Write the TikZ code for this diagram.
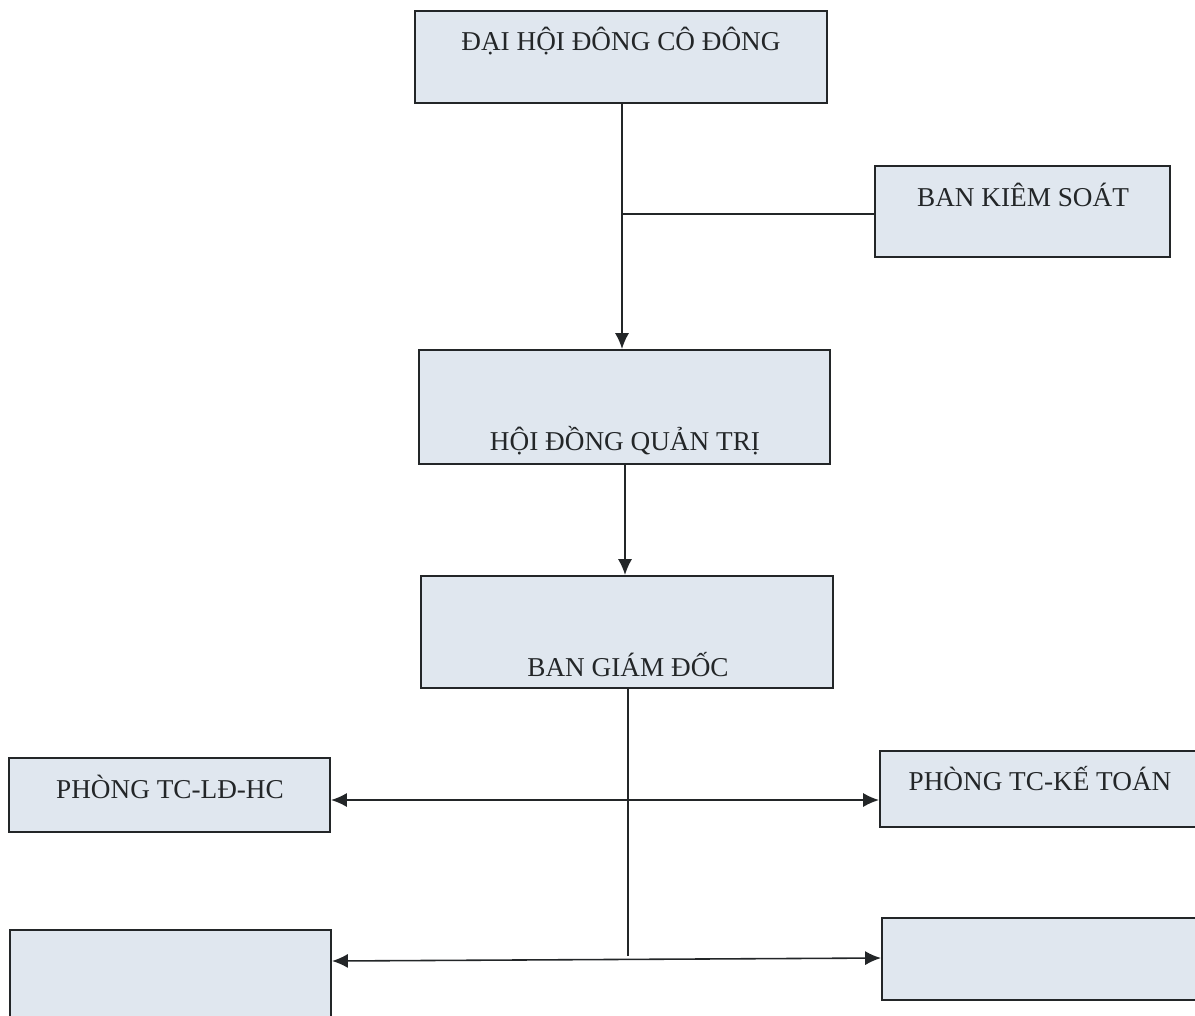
\documentclass[tikz,border=0pt]{standalone}
\usepackage{fontspec}
\setmainfont{Liberation Serif}
\usetikzlibrary{fit,arrows.meta}
\definecolor{boxfill}{RGB}{224,231,239}
\definecolor{ink}{RGB}{35,38,40}
\tikzset{
  orgbox/.style={draw=ink, fill=boxfill, line width=1.2pt, inner sep=0pt, rectangle},
  boxtext/.style={font=\fontsize{15.5}{18}\selectfont, text=ink, inner sep=0pt},
  conn/.style={draw=ink, line width=0.9pt},
  tip/.style={-{Latex[length=9pt,width=8pt]}},
  tips/.style={{Latex[length=9pt,width=8pt]}-{Latex[length=9pt,width=8pt]}}
}
\begin{document}
\begin{tikzpicture}[x=0.02cm,y=-0.02cm]
\useasboundingbox (0,0) rectangle (1195,1015);
\clip (0,0) rectangle (1195,1015);
\fill[white] (0,0) rectangle (1195,1015);
% boxes
\node[orgbox, fit={(415,11) (827,103)}] (dhcd) {};
\node[orgbox, fit={(875,166) (1170,257)}] (bks) {};
\node[orgbox, fit={(419,350) (830,464)}] (hdqt) {};
\node[orgbox, fit={(421,576) (833,688)}] (bgd) {};
\node[orgbox, fit={(9,758) (330,832)}] (tcld) {};
\node[orgbox, fit={(880,751) (1205,827)}] (tckt) {};
\node[orgbox, fit={(10,930) (331,1030)}] (bl) {};
\node[orgbox, fit={(882,918) (1205,1000)}] (br) {};
% texts
\node[boxtext] (t1) at (621,41) {ĐẠI HỘI ĐÔNG CÔ ĐÔNG};
\node[boxtext] (t2) at (1023,195) {BAN KIÊM SOÁT};
\node[boxtext] (t3) at (625,441) {HỘI ĐỒNG QUẢN TRỊ};
\node[boxtext] (t4) at (628,665) {BAN GIÁM ĐỐC};
\node[boxtext] (t5) at (170,787) {PHÒNG TC-LĐ-HC};
\node[boxtext] (t6) at (1040,779) {PHÒNG TC-KẾ TOÁN};
% connectors
\coordinate (j1) at (622,214);
\coordinate (j2) at (628,800);
\coordinate (j3) at (628,956);
\draw[conn, tip] (dhcd.south -| j1) -- (hdqt.north -| j1);
\draw[conn] (j1) -- (bks.west |- j1);
\draw[conn, tip] (hdqt.south -| 625,0) -- (bgd.north -| 625,0);
\draw[conn] (bgd.south -| j2) -- (j3);
\draw[conn, tips] (tcld.east |- 0,800) -- (tckt.west |- 0,800);
\draw[conn, tips] (bl.east |- 0,961) -- (br.west |- 0,958);
\end{tikzpicture}
\end{document}
